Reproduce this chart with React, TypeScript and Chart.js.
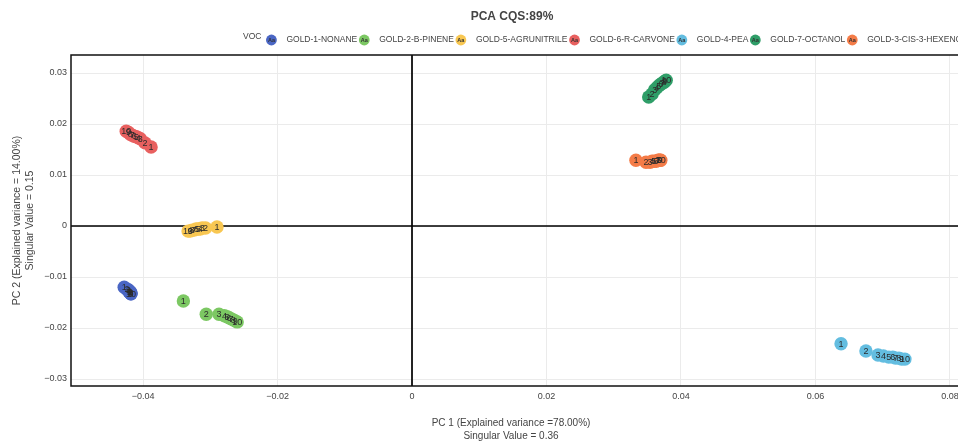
import React, { useEffect, useRef } from 'react';
import { Chart, registerables } from 'chart.js';

Chart.register(...registerables);

// ---------- data ----------
const chartTitle = 'PCA CQS:89%';
const legendTitle = 'VOC';
const xTitleLines = ['PC 1 (Explained variance =78.00%)', 'Singular Value = 0.36'];
const yTitleLines = ['PC 2 (Explained variance = 14.00%)', 'Singular Value = 0.15'];

const pointLabels = ['1', '2', '3', '4', '5', '6', '7', '8', '9', '10'];

const seriesNames = [
  'GOLD-1-NONANE',
  'GOLD-2-B-PINENE',
  'GOLD-5-AGRUNITRILE',
  'GOLD-6-R-CARVONE',
  'GOLD-4-PEA',
  'GOLD-7-OCTANOL',
  'GOLD-3-CIS-3-HEXENOL',
];
const seriesColors = ['#4a66c4', '#7cc863', '#f8c752', '#e8605f', '#63bde0', '#2f9e68', '#f47c48'];

const nonaneX = [-0.0428, -0.0424, -0.0422, -0.0421, -0.0421, -0.0419, -0.0419, -0.0418, -0.0418, -0.0418];
const nonaneY = [-0.012, -0.0124, -0.0125, -0.0127, -0.0129, -0.0129, -0.0131, -0.0131, -0.0133, -0.0133];

const pineneX = [-0.034, -0.0306, -0.0287, -0.0279, -0.0275, -0.0272, -0.0269, -0.0266, -0.0263, -0.026];
const pineneY = [-0.0147, -0.0173, -0.0173, -0.0176, -0.0178, -0.018, -0.0182, -0.0184, -0.0186, -0.0188];

const agrunitrileX = [-0.029, -0.0307, -0.0312, -0.0315, -0.0318, -0.0321, -0.0324, -0.0327, -0.033, -0.0333];
const agrunitrileY = [-0.0002, -0.0004, -0.0004, -0.0006, -0.0006, -0.0006, -0.0008, -0.0008, -0.001, -0.001];

const carvoneX = [-0.0388, -0.0397, -0.0404, -0.0407, -0.041, -0.0413, -0.0416, -0.0419, -0.0422, -0.0425];
const carvoneY = [0.0155, 0.0163, 0.0171, 0.0173, 0.0175, 0.0176, 0.0178, 0.018, 0.0184, 0.0186];

const peaX = [0.0638, 0.0675, 0.0693, 0.0701, 0.0709, 0.0715, 0.0719, 0.0724, 0.0728, 0.0733];
const peaY = [-0.0231, -0.0245, -0.0253, -0.0255, -0.0257, -0.0257, -0.0259, -0.0259, -0.0261, -0.0261];

const octanolX = [0.0352, 0.0357, 0.0361, 0.0364, 0.0367, 0.037, 0.0372, 0.0375, 0.0376, 0.0378];
const octanolY = [0.0253, 0.0259, 0.0267, 0.0271, 0.0275, 0.0278, 0.028, 0.0282, 0.0284, 0.0286];

const hexenolX = [0.0333, 0.0348, 0.0354, 0.0357, 0.036, 0.0363, 0.0366, 0.0367, 0.0369, 0.037];
const hexenolY = [0.0129, 0.0125, 0.0125, 0.0127, 0.0127, 0.0127, 0.0129, 0.0129, 0.0129, 0.0129];

const seriesX = [nonaneX, pineneX, agrunitrileX, carvoneX, peaX, octanolX, hexenolX];
const seriesY = [nonaneY, pineneY, agrunitrileY, carvoneY, peaY, octanolY, hexenolY];

const xTicks = [-0.04, -0.02, 0, 0.02, 0.04, 0.06, 0.08];
const xTickLabels = ['\u22120.04', '\u22120.02', '0', '0.02', '0.04', '0.06', '0.08'];
const yTicks = [-0.03, -0.02, -0.01, 0, 0.01, 0.02, 0.03];
const yTickLabels = ['\u22120.03', '\u22120.02', '\u22120.01', '0', '0.01', '0.02', '0.03'];

const xMin = -0.05071;
const xMax = 0.08372;
const yMin = -0.03137;
const yMax = 0.03353;

// ---------- styling ----------
const FONT = '"Liberation Sans", Arial, Helvetica, sans-serif';
const TEXT = '#444';
const CANVAS_W = 1024;
const CANVAS_H = 441;

const overlayPlugin = {
  id: 'overlay',
  beforeDraw(chart: any) {
    const c = chart.ctx;
    c.save();
    c.fillStyle = '#fff';
    c.fillRect(0, 0, chart.width, chart.height);
    c.restore();
  },
  beforeDatasetsDraw(chart: any) {
    const c = chart.ctx;
    const a = chart.chartArea;
    const x0 = Math.round(chart.scales.x.getPixelForValue(0));
    const y0 = Math.round(chart.scales.y.getPixelForValue(0));
    c.save();
    c.strokeStyle = '#000';
    c.lineWidth = 1.7;
    c.beginPath();
    c.moveTo(x0, a.top);
    c.lineTo(x0, a.bottom);
    c.moveTo(a.left, y0);
    c.lineTo(a.right, y0);
    c.stroke();
    c.restore();
  },
  afterDatasetsDraw(chart: any) {
    const c = chart.ctx;
    c.save();
    c.font = `9px ${FONT}`;
    c.fillStyle = '#2b2b2b';
    c.textAlign = 'center';
    c.textBaseline = 'middle';
    chart.data.datasets.forEach((ds: any, di: number) => {
      const meta = chart.getDatasetMeta(di);
      meta.data.forEach((pt: any, i: number) => {
        c.fillText(pointLabels[i], pt.x, pt.y + 0.5);
      });
    });
    c.restore();
  },
  afterDraw(chart: any) {
    const c = chart.ctx;
    const a = chart.chartArea;
    c.save();
    // plot frame
    c.strokeStyle = '#111';
    c.lineWidth = 1.5;
    c.strokeRect(a.left, a.top, a.right - a.left, a.bottom - a.top);

    // title
    c.fillStyle = TEXT;
    c.font = `bold 12px ${FONT}`;
    c.textAlign = 'center';
    c.textBaseline = 'middle';
    c.fillText(chartTitle, 512, 17);

    // legend
    c.font = `8.5px ${FONT}`;
    c.textAlign = 'left';
    c.fillStyle = TEXT;
    const legendY = 40;
    let x = 243;
    c.fillText(legendTitle, x, legendY - 3);
    x += c.measureText(legendTitle).width + 10;
    seriesNames.forEach((name, i) => {
      c.beginPath();
      c.arc(x, legendY, 5.4, 0, Math.PI * 2);
      c.fillStyle = seriesColors[i];
      c.fill();
      c.fillStyle = '#333';
      c.font = `bold 5.5px ${FONT}`;
      c.textAlign = 'center';
      c.fillText('Aa', x, legendY + 0.5);
      c.textAlign = 'left';
      c.font = `8.5px ${FONT}`;
      c.fillStyle = TEXT;
      c.fillText(name, x + 15, legendY);
      x = x + 15 + c.measureText(name).width + 7;
    });

    // x axis title
    c.font = `10px ${FONT}`;
    c.textAlign = 'center';
    c.fillStyle = TEXT;
    c.fillText(xTitleLines[0], 511, 423);
    c.fillText(xTitleLines[1], 511, 436);

    // y axis title
    c.font = `10.5px ${FONT}`;
    const cy = (a.top + a.bottom) / 2;
    c.save();
    c.translate(17, cy);
    c.rotate(-Math.PI / 2);
    c.fillText(yTitleLines[0], 0, 0);
    c.restore();
    c.save();
    c.translate(30, cy);
    c.rotate(-Math.PI / 2);
    c.fillText(yTitleLines[1], 0, 0);
    c.restore();

    c.restore();
  },
};

export default function App() {
  const ref = useRef<HTMLCanvasElement | null>(null);

  useEffect(() => {
    document.body.style.margin = '0';
    const canvas = ref.current;
    if (!canvas) return;

    const datasets = seriesNames.map((name, i) => ({
      label: name,
      data: seriesX[i].map((xv, j) => ({ x: xv, y: seriesY[i][j] })),
      backgroundColor: seriesColors[i],
      borderColor: seriesColors[i],
      borderWidth: 0,
      pointRadius: 6.7,
      pointHoverRadius: 6.7,
      showLine: false,
    }));

    const chart = new Chart(canvas, {
      type: 'scatter',
      data: { datasets },
      plugins: [overlayPlugin],
      options: {
        animation: false,
        responsive: false,
        devicePixelRatio: 1,
        layout: { padding: { top: 55, right: 49, left: 0, bottom: 0 } },
        plugins: {
          legend: { display: false },
          title: { display: false },
          tooltip: { enabled: false },
        },
        scales: {
          x: {
            type: 'linear',
            min: xMin,
            max: xMax,
            afterFit: (s: any) => {
              s.height = CANVAS_H - 386;
            },
            afterBuildTicks: (s: any) => {
              s.ticks = xTicks.map((v) => ({ value: v }));
            },
            ticks: {
              autoSkip: false,
              maxRotation: 0,
              padding: 5,
              color: TEXT,
              font: { family: FONT, size: 9 },
              callback: (v: any) => {
                const idx = xTicks.findIndex((t) => Math.abs(t - v) < 1e-9);
                return idx >= 0 ? xTickLabels[idx] : '';
              },
            },
            grid: { color: '#ebebeb', lineWidth: 1, drawTicks: false },
            border: { display: false },
          },
          y: {
            type: 'linear',
            min: yMin,
            max: yMax,
            afterFit: (s: any) => {
              s.width = 71;
            },
            afterBuildTicks: (s: any) => {
              s.ticks = yTicks.map((v) => ({ value: v }));
            },
            ticks: {
              autoSkip: false,
              padding: 4,
              color: TEXT,
              font: { family: FONT, size: 9 },
              callback: (v: any) => {
                const idx = yTicks.findIndex((t) => Math.abs(t - v) < 1e-9);
                return idx >= 0 ? yTickLabels[idx] : '';
              },
            },
            grid: { color: '#ebebeb', lineWidth: 1, drawTicks: false },
            border: { display: false },
          },
        },
      },
    } as any);

    return () => chart.destroy();
  }, []);

  return (
    <div style={{ position: 'fixed', left: 0, top: 0, width: 958, height: CANVAS_H, overflow: 'hidden', background: '#fff' }}>
      <canvas ref={ref} width={CANVAS_W} height={CANVAS_H} style={{ width: CANVAS_W, height: CANVAS_H, display: 'block' }} />
    </div>
  );
}
